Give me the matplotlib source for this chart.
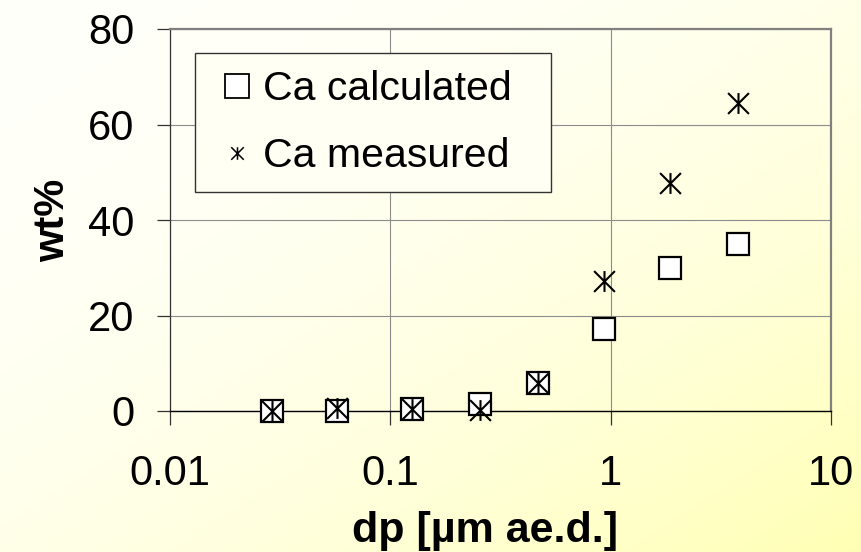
import numpy as np
import matplotlib
matplotlib.use("Agg")
import matplotlib.pyplot as plt
from matplotlib.path import Path
from matplotlib.ticker import FixedLocator, FixedFormatter, NullLocator

plt.rcParams['font.family'] = ['Liberation Sans', 'DejaVu Sans']

# Particle aerodynamic diameter (µm) and Ca content (wt%)
dp = [0.029, 0.057, 0.125, 0.255, 0.47, 0.93, 1.86, 3.8]
ca_calculated = [0.0, 0.0, 0.4, 1.4, 5.9, 17.2, 30.0, 34.9]
ca_measured = [0.1, 0.7, 0.4, 0.3, 5.9, 27.2, 47.8, 64.6]

x_ticks = [0.01, 0.1, 1, 10]
x_tick_labels = ["0.01", "0.1", "1", "10"]
y_ticks = [0, 20, 40, 60, 80]

W, H = 862, 552
fig = plt.figure(figsize=(W / 100, H / 100), dpi=100)

# diagonal white-to-pale-yellow background
bg = fig.add_axes([0, 0, 1, 1], zorder=-10)
gx, gy = np.meshgrid(np.linspace(0, 1, 400), np.linspace(0, 1, 300))
t = (gx + gy) / 2.0
img = np.zeros((300, 400, 3))
img[..., 0] = 1.0
img[..., 1] = 1.0
img[..., 2] = (250 - 70 * t ** 2) / 255.0
bg.imshow(img, extent=[0, 1, 0, 1], origin='upper', aspect='auto')
bg.set_axis_off()

ax = fig.add_axes([170 / W, 1 - 411 / H, (831 - 170) / W, (411 - 29) / H])
ax.patch.set_visible(False)

# asterisk: vertical bar plus an X
star = Path([(0, -1), (0, 1), (-1, -1), (1, 1), (-1, 1), (1, -1)],
            [Path.MOVETO, Path.LINETO, Path.MOVETO, Path.LINETO, Path.MOVETO, Path.LINETO])

ax.plot(dp, ca_calculated, linestyle='none', marker='s', markersize=16,
        markerfacecolor='white', markeredgecolor='black', markeredgewidth=1.6,
        clip_on=False, zorder=4, label='Ca calculated')
ax.plot(dp, ca_measured, linestyle='none', marker=star, markersize=15,
        markeredgecolor='black', markeredgewidth=1.5, color='black',
        clip_on=False, zorder=5, label='Ca measured')

ax.set_xscale('log')
ax.set_xlim(0.01, 10)
ax.set_ylim(0, 80)
ax.xaxis.set_major_locator(FixedLocator(x_ticks))
ax.xaxis.set_major_formatter(FixedFormatter(x_tick_labels))
ax.xaxis.set_minor_locator(NullLocator())
ax.yaxis.set_major_locator(FixedLocator(y_ticks))

ax.grid(True, which='major', color='#8c8c8c', linewidth=0.8)
ax.set_axisbelow(True)

for side in ('top', 'right'):
    ax.spines[side].set_color('#808080')
    ax.spines[side].set_linewidth(1.6)
ax.spines['left'].set_color('#333333')
ax.spines['left'].set_linewidth(0.9)
ax.spines['bottom'].set_color('black')
ax.spines['bottom'].set_linewidth(1.0)
ax.spines['bottom'].set_zorder(3)

ax.tick_params(axis='x', direction='out', length=10, width=0.9, color='#333333',
               pad=21, labelsize=30)
ax.tick_params(axis='y', direction='out', length=9.5, width=0.9, color='#333333',
               pad=16, labelsize=30)

ax.set_xlabel('dp [µm ae.d.]', fontsize=31, fontweight='bold')
ax.set_ylabel('wt%', fontsize=30, fontweight='bold')
ax.xaxis.set_label_coords(0.477, -0.262)
ax.yaxis.set_label_coords(-0.147, 0.5)

leg_x0, leg_x1, leg_y0, leg_y1 = 195, 551, 53, 192
leg = ax.legend(loc='upper left', mode='expand',
                bbox_to_anchor=((leg_x0 - 170) / 661, (411 - leg_y1) / 382,
                                (leg_x1 - leg_x0) / 661, (leg_y1 - leg_y0) / 382),
                borderaxespad=0, fontsize=29.5, frameon=True, fancybox=False,
                edgecolor='#333333', facecolor='#fffff4', framealpha=1,
                handlelength=1.2, handletextpad=0.05, labelspacing=0.7,
                borderpad=0.42)
leg.get_frame().set_linewidth(1.0)
leg.legend_handles[0].set_markersize(17)
leg.legend_handles[0].set_markeredgewidth(1.3)
leg.legend_handles[1].set_markersize(9)
leg.legend_handles[1].set_markeredgewidth(1.1)

fig.savefig('out.png', dpi=100)
